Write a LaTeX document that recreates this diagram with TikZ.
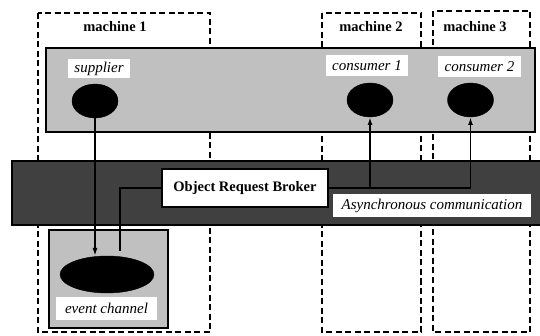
\documentclass[tikz,border=0pt]{standalone}
\usepackage{fontspec}
\setmainfont{Liberation Serif}
\usetikzlibrary{shapes.geometric,arrows.meta}
\definecolor{hostgray}{RGB}{192,192,192}
\definecolor{orbgray}{RGB}{64,64,64}
\begin{document}
\begin{tikzpicture}[x=1pt,y=-1pt,
  machinebox/.style={draw,line width=1.5pt,dash pattern=on 6pt off 3.5pt},
  outline/.style={draw=black,line width=1.5pt},
  tag/.style={fill=white,inner sep=0pt,outer sep=0pt,
    font=\fontsize{15}{17}\selectfont\itshape},
  mlabel/.style={inner sep=0pt,font=\fontsize{14.5}{16}\selectfont\bfseries},
  blob/.style={ellipse,fill=black,draw=black,inner sep=0pt,outer sep=0pt},
  link/.style={line width=1.8pt},
  flow/.style={link,-{Latex[length=8pt,width=5pt]}},
]
\useasboundingbox (0,0) rectangle (540,336);

% machine boundaries
\draw[machinebox] (38,13) rectangle (210,332);
\draw[machinebox] (322,13) rectangle (421,332);
\draw[machinebox] (433,11) rectangle (530,332);
\node[mlabel] (m1) at (115,27) {machine 1};
\node[mlabel] (m2) at (371,27) {machine 2};
\node[mlabel] (m3) at (475,27) {machine 3};

% application layer
\filldraw[fill=hostgray,outline] (46,48) rectangle (535,132);

% ORB layer
\fill[orbgray] (12,161) rectangle (540,225);
\draw[outline] (540,161) -- (12,161) -- (12,225) -- (540,225);

% event channel host
\filldraw[fill=hostgray,outline] (49,230) rectangle (168,328);

% objects
\node[blob,minimum width=46pt,minimum height=34pt] (supplier) at (95,101) {};
\node[blob,minimum width=46pt,minimum height=34pt] (cons1) at (370,100) {};
\node[blob,minimum width=46pt,minimum height=34pt] (cons2) at (470.5,100) {};
\node[blob,minimum width=94pt,minimum height=37pt] (event) at (107,274.5) {};

% labels
\node[tag,minimum width=62pt,minimum height=19pt] (supLbl) at (99,68.5) {supplier};
\node[tag,minimum width=82pt,minimum height=21pt] (c1Lbl) at (367,66) {consumer 1};
\node[tag,minimum width=83pt,minimum height=21pt] (c2Lbl) at (479.5,66.5) {consumer 2};
\node[tag,minimum width=101pt,minimum height=23pt] (evLbl) at (106.5,308.5) {event channel};
\node[tag,minimum width=198pt,minimum height=23pt] (asyLbl) at (432,205.5) {Asynchronous communication};

\node[outline,fill=white,inner sep=0pt,outer sep=0pt,minimum width=166pt,minimum height=38pt,
  font=\fontsize{14.5}{16}\selectfont\bfseries] (orb) at (245,188) {Object Request Broker};

% connections
\coordinate (evTap) at (120,251);
\draw[flow] (supplier.south) -- (supplier.south |- event.north);
\draw[link] (evTap) |- (orb.west);
\draw[flow] (orb.east) -| (cons2.south);
\draw[flow] (cons1.south |- orb.east) -- (cons1.south);
\end{tikzpicture}
\end{document}
